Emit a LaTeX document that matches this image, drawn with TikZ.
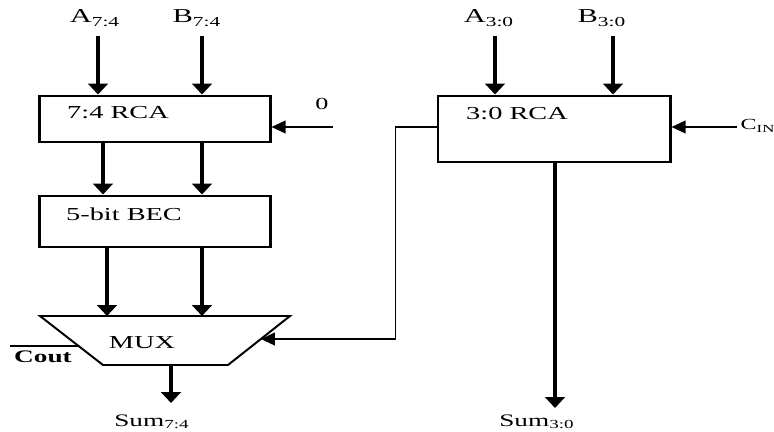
\documentclass[tikz,border=0pt]{standalone}
\usepackage{fontspec}
\usepackage{graphicx}
\setmainfont{Liberation Serif}
\usetikzlibrary{arrows.meta,calc}

% text in the drawing is stretched sideways
\newcommand{\hwide}[1]{\scalebox{1.55}[1]{#1}}

\begin{document}
\begin{tikzpicture}[
    x=0.025cm, y=-0.025cm,
    box/.style={rectangle, draw, line width=2.1pt, inner sep=0pt},
    boxtext/.style={anchor=base, inner sep=0pt, font=\fontsize{13}{15}\selectfont},
    sig/.style={anchor=base, inner sep=1pt, font=\fontsize{14}{16}\selectfont},
    bus/.style={-{Triangle[length=7.8pt, width=14pt]}, line width=3.2pt},
    wire/.style={-{Triangle[length=10pt, width=9pt]}, line width=1.4pt}
]
    \useasboundingbox (0,0) rectangle (774,432);

    % Bits 7:4
    \node[box, minimum width=5.75cm, minimum height=1.15cm] (rca74) at (155,119) {};
    \node[boxtext] (rca74text) at (118,119) {\hwide{7:4 RCA}};
    \node[box, minimum width=5.75cm, minimum height=1.275cm] (bec) at (155,221.5) {};
    \node[boxtext] (bectext) at (124,221) {\hwide{5-bit BEC}};

    % MUX outline
    \coordinate (muxtl) at (40,316);
    \coordinate (muxtr) at (290,316);
    \coordinate (muxbr) at (228,365);
    \coordinate (muxbl) at (103,365);
    \draw[line width=1.4pt, line join=miter] (muxtl) -- (muxtr) -- (muxbr) -- (muxbl) -- cycle;
    \node[boxtext] (muxtext) at (142,348) {\hwide{MUX}};
    \coordinate (muxsel) at ($(muxtr)!0.47!(muxbr)$);
    \coordinate (muxco) at ($(muxtl)!0.61!(muxbl)$);

    % Bits 3:0
    \node[box, minimum width=5.8cm, minimum height=1.65cm] (rca30) at (554,129) {};
    \node[boxtext] (rca30text) at (517,120) {\hwide{3:0 RCA}};

    % Inputs
    \node[sig] (a74) at (95,23) {\hwide{A\textsubscript{7:4}}};
    \node[sig] (b74) at (197,23) {\hwide{B\textsubscript{7:4}}};
    \node[sig] (a30) at (489,23) {\hwide{A\textsubscript{3:0}}};
    \node[sig] (b30) at (602,23) {\hwide{B\textsubscript{3:0}}};
    \node[sig, font=\fontsize{12}{14}\selectfont] (zero) at (322,110) {\hwide{0}};
    \node[sig, anchor=base west, font=\fontsize{11}{13}\selectfont] (cin) at (739,130) {\hwide{C\textsubscript{IN}}};
    \coordinate (zeroin) at (333,127);
    \coordinate (cinin) at (737,127);

    % Outputs
    \node[sig, font=\fontsize{12.5}{14}\selectfont] (sum74) at (152,426) {\hwide{Sum\textsubscript{7:4}}};
    \node[sig, font=\fontsize{12.5}{14}\selectfont] (sum30) at (537,426) {\hwide{Sum\textsubscript{3:0}}};
    \node[sig, font=\bfseries\fontsize{12.5}{14}\selectfont] (cout) at (43,362) {\hwide{Cout}};
    \coordinate (sum74end) at (171,403);
    \coordinate (sum30end) at (555,408);
    \coordinate (coutend) at (10,346);

    % Arrows
    \draw[bus, shorten <=6pt] (a74.south -| 98,0) -- (rca74.north -| 98,0);
    \draw[bus, shorten <=6pt] (b74.south -| 202,0) -- (rca74.north -| 202,0);
    \draw[bus, shorten <=6pt] (a30.south -| 495,0) -- (rca30.north -| 495,0);
    \draw[bus, shorten <=6pt] (b30.south -| 613,0) -- (rca30.north -| 613,0);

    \draw[bus] (rca74.south -| 103,0) -- (bec.north -| 103,0);
    \draw[bus] (rca74.south -| 202,0) -- (bec.north -| 202,0);
    \draw[bus] (bec.south -| 107,0) -- (muxtl -| 107,0);
    \draw[bus] (bec.south -| 202,0) -- (muxtl -| 202,0);

    \draw[wire] (zeroin) -- (zeroin -| rca74.east);
    \draw[wire] (cinin) -- (cinin -| rca30.east);
    \draw[wire] ([yshift=1.4pt]rca30.west) -- ++(-41,0) |- (muxsel);
    \draw[line width=1.4pt] (muxco -| coutend) -- (muxco);

    \draw[bus, line width=2.8pt] (muxbl -| sum74end) -- (sum74end);
    \draw[bus] (rca30.south -| sum30end) -- (sum30end);
\end{tikzpicture}
\end{document}
